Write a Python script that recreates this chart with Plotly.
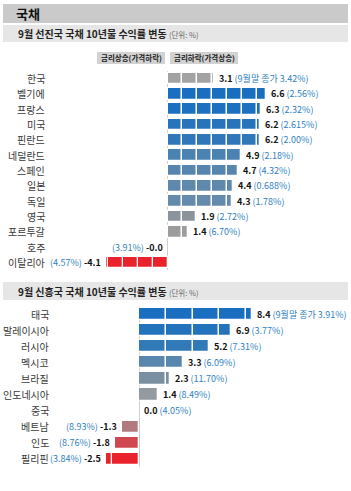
import math
import plotly.graph_objects as go

W, H = 351, 491
FONT = "Noto Sans CJK KR"

# ---- data: advanced economies ----
adv_countries = ["한국", "벨기에", "프랑스", "미국", "핀란드", "네덜란드", "스페인",
                 "일본", "독일", "영국", "포르투갈", "호주", "이탈리아"]
adv_change = [3.1, 6.6, 6.3, 6.2, 6.2, 4.9, 4.7, 4.4, 4.3, 1.9, 1.4, -0.0, -4.1]
adv_yield = ["9월말 종가 3.42%", "2.56%", "2.32%", "2.615%", "2.00%", "2.18%", "4.32%",
             "0.688%", "1.78%", "2.72%", "6.70%", "3.91%", "4.57%"]
adv_colors = ["#a3a3a3", "#1a6ec0", "#1d70bf", "#2874bb", "#2f77b9", "#4a82b2", "#5686af",
              "#5e89ac", "#648bab", "#8b939c", "#9c9c9c", "#9c9c9c", "#e8232b"]

# ---- data: emerging economies ----
em_countries = ["태국", "말레이시아", "러시아", "멕시코", "브라질", "인도네시아",
                "중국", "베트남", "인도", "필리핀"]
em_change = [8.4, 6.9, 5.2, 3.3, 2.3, 1.4, 0.0, -1.3, -1.8, -2.5]
em_yield = ["9월말 종가 3.91%", "3.77%", "7.31%", "6.09%", "11.70%", "8.49%",
            "4.05%", "8.93%", "8.76%", "3.84%"]
em_colors = ["#1a6ec0", "#2373bc", "#3179b7", "#5886ac", "#7a8fa0", "#939aa0",
             "#939aa0", "#b07a7e", "#d0484f", "#e8232b"]

legend_labels = ["금리상승(가격하락)", "금리하락(가격상승)"]
section_title = "국채"
adv_title = "9월 선진국 국채 10년물 수익률 변동"
em_title = "9월 신흥국 국채 10년물 수익률 변동"
unit_text = "(단위: %)"

VAL_C = "#111111"
PCT_C = "#2f7fc1"


def py(px):
    return 1 - px / H


def px_x(px):
    return px / W


fig = go.Figure()
annotations = []
shapes = []


def add_panel(countries, changes, yields, colors, xa, ya, step, label_right):
    # split each bar into segments of `step` units so white dividers appear
    for c, v, col in zip(countries, changes, colors):
        sign = -1 if math.copysign(1, v) < 0 else 1
        mag = abs(v)
        start = 0.0
        bases, lens = [], []
        while start < mag - 1e-9:
            seg = min(step, mag - start)
            bases.append(start if sign > 0 else -(start + seg))
            lens.append(seg)
            start += seg
        if lens:
            fig.add_trace(go.Bar(
                y=[c] * len(lens), x=lens, base=bases, orientation="h",
                marker=dict(color=col, line=dict(color="white", width=1.3)),
                width=0.76, xaxis=xa, yaxis=ya, showlegend=False, hoverinfo="skip"))
    yref = ya
    xref = xa
    for c, v, yl in zip(countries, changes, yields):
        neg = math.copysign(1, v) < 0
        vs = format(v, ".1f")
        if neg:
            txt = f"<span style='color:{PCT_C}'>({yl})</span> <b style='color:{VAL_C}'>{vs}</b>"
            annotations.append(dict(x=v, y=c, xref=xref, yref=yref, text=txt, showarrow=False,
                                    xanchor="right", xshift=-3, font=dict(size=9, family=FONT)))
        else:
            txt = f"<b style='color:{VAL_C}'>{vs}</b> <span style='color:{PCT_C}'>({yl})</span>"
            annotations.append(dict(x=v, y=c, xref=xref, yref=yref, text=txt, showarrow=False,
                                    xanchor="left", xshift=3, font=dict(size=9, family=FONT)))
        annotations.append(dict(x=px_x(label_right), y=c, xref="paper", yref=yref, text=c,
                                showarrow=False, xanchor="right",
                                font=dict(size=10, family=FONT, color="#383838")))


add_panel(adv_countries, adv_change, adv_yield, adv_colors, "x", "y", 1.0, 47)
add_panel(em_countries, em_change, em_yield, em_colors, "x2", "y2", 2.0, 51)

# axis geometry
z1, s1 = 167.5, 14.9
z2, s2 = 139.0, 13.4
n1, n2 = len(adv_countries), len(em_countries)
top1, bot1 = 71.0, 270.0
top2, bot2 = 306.0, 467.0

fig.update_layout(
    width=W, height=H, margin=dict(l=0, r=0, t=0, b=0),
    paper_bgcolor="white", plot_bgcolor="white", bargap=0,
    barmode="overlay",
    font=dict(family=FONT),
    xaxis=dict(range=[-z1 / s1, (W - z1) / s1], domain=[0, 1], showgrid=False,
               zeroline=True, zerolinecolor="#cfcfcf", zerolinewidth=1,
               showticklabels=False, fixedrange=True, anchor="y"),
    yaxis=dict(type="category", categoryorder="array", categoryarray=adv_countries,
               range=[n1 - 0.5, -0.5], domain=[py(bot1), py(top1)],
               showticklabels=False, showgrid=False, zeroline=False, anchor="x"),
    xaxis2=dict(range=[-z2 / s2, (W - z2) / s2], domain=[0, 1], showgrid=False,
                zeroline=True, zerolinecolor="#cfcfcf", zerolinewidth=1,
                showticklabels=False, fixedrange=True, anchor="y2"),
    yaxis2=dict(type="category", categoryorder="array", categoryarray=em_countries,
                range=[n2 - 0.5, -0.5], domain=[py(bot2), py(top2)],
                showticklabels=False, showgrid=False, zeroline=False, anchor="x2"),
)

# header bands
shapes.append(dict(type="rect", xref="paper", yref="paper", x0=px_x(3), x1=px_x(348),
                   y0=py(23), y1=py(4), fillcolor="#cacaca", line=dict(width=0), layer="below"))
shapes.append(dict(type="rect", xref="paper", yref="paper", x0=px_x(3), x1=px_x(348),
                   y0=py(42), y1=py(25), fillcolor="#e6e6e6", line=dict(width=0), layer="below"))
shapes.append(dict(type="rect", xref="paper", yref="paper", x0=px_x(3), x1=px_x(348),
                   y0=py(300), y1=py(282), fillcolor="#e6e6e6", line=dict(width=0), layer="below"))

annotations.append(dict(x=px_x(14), y=py(13.5), xref="paper", yref="paper", text=f"<b>{section_title}</b>",
                        showarrow=False, xanchor="left", yanchor="middle",
                        font=dict(size=13, family=FONT, color="#111111")))
for ttl, yc in [(adv_title, 33.5), (em_title, 291)]:
    annotations.append(dict(x=px_x(16), y=py(yc), xref="paper", yref="paper",
                            text=f"<b>{ttl}</b> <span style='font-size:7.5px;color:#666666'>{unit_text}</span>",
                            showarrow=False, xanchor="left", yanchor="middle",
                            font=dict(size=10, family=FONT, color="#222222")))

# legend boxes
for lab, x0, x1 in [(legend_labels[0], 97, 165), (legend_labels[1], 170, 238)]:
    shapes.append(dict(type="rect", xref="paper", yref="paper", x0=px_x(x0), x1=px_x(x1),
                       y0=py(64), y1=py(52), fillcolor="#d2d2d2", line=dict(width=0), layer="below"))
    annotations.append(dict(x=px_x((x0 + x1) / 2), y=py(58), xref="paper", yref="paper",
                            text=f"<b>{lab}</b>", showarrow=False, xanchor="center", yanchor="middle",
                            font=dict(size=7.5, family=FONT, color="#222222")))

fig.update_layout(shapes=shapes, annotations=annotations)
fig.write_html("out.html")
